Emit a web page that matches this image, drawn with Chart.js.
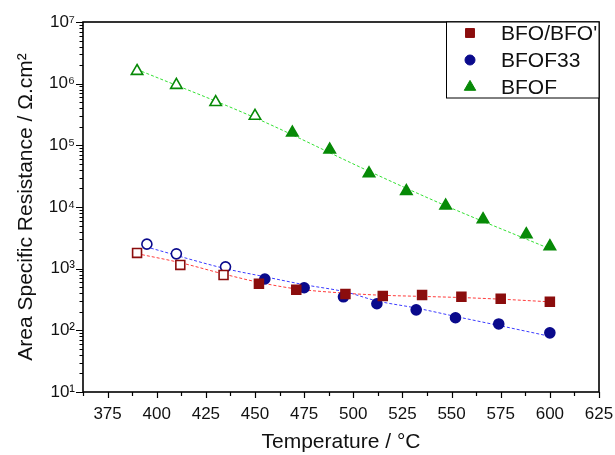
<!DOCTYPE html>
<html>
<head>
<meta charset="utf-8">
<script src="https://cdn.jsdelivr.net/npm/chart.js@4.4.1/dist/chart.umd.min.js"></script>
<style>
  html, body { margin: 0; padding: 0; background: #fff; }
  #wrap { width: 615px; height: 455px; }
</style>
</head>
<body>
<div id="wrap"><canvas id="myChart"></canvas></div>
<script>
const ctx = document.getElementById("myChart");

// BFO/BFO' (first 3 points open squares)
const bfoTemp = [390, 412, 434, 452, 471, 496, 515, 535, 555, 575, 600];
const bfoAsr = [1800, 1150, 790, 570, 455, 390, 360, 375, 350, 325, 290];
const bfoOpenCount = 3;

// BFOF33 (first 3 points open circles)
const bfof33Temp = [395, 410, 435, 455, 475, 495, 512, 532, 552, 574, 600];
const bfof33Asr = [2500, 1740, 1070, 680, 490, 350, 270, 215, 160, 127, 91];
const bfof33OpenCount = 3;

// BFOF (first 4 points open triangles)
const bfofTemp = [390, 410, 430, 450, 469, 488, 508, 527, 547, 566, 588, 600];
const bfofAsr = [1600000, 950000, 500000, 300000, 160000, 85000, 35000, 18000, 10500, 6300, 3600, 2300];
const bfofOpenCount = 4;

// dashed fit curves
const bfoFitTemp = [390, 412, 434, 452, 471, 496, 515, 535, 555, 575, 600];
const bfoFitAsr = [1750, 1250, 820, 600, 470, 400, 370, 355, 340, 320, 290];
const bfof33FitTemp = [397, 435, 455, 475, 496, 512, 532, 552, 574, 600];
const bfof33FitAsr = [2150, 1000, 740, 550, 420, 300, 230, 168, 120, 80];
const bfofFitTemp = [390, 450, 508, 547, 600];
const bfofFitAsr = [1700000, 280000, 38000, 10500, 2100];

const xTicks = [375, 400, 425, 450, 475, 500, 525, 550, 575, 600, 625];
const yTicks = [1e1, 1e2, 1e3, 1e4, 1e5, 1e6, 1e7];
const yTickLabels = ["10¹", "10²", "10³", "10⁴", "10⁵", "10⁶", "10⁷"];

const red = "#8b0d0d";
const blue = "#0a0a8c";
const green = "#078a07";
const font = "'Liberation Sans', Arial, sans-serif";

const pts = (xs, ys) => xs.map((x, i) => ({ x: x, y: ys[i] }));

const markerSet = (label, xs, ys, color, style, radius, openCount) => ({
  label: label,
  data: pts(xs, ys),
  pointStyle: style,
  pointRadius: radius,
  pointBorderWidth: 1.6,
  pointBorderColor: color,
  pointBackgroundColor: (c) => (c.dataIndex < openCount ? "#ffffff" : color),
  showLine: false,
});

const fitSet = (xs, ys, color) => ({
  label: "fit",
  data: pts(xs, ys),
  showLine: true,
  borderColor: color,
  borderWidth: 1,
  borderDash: [3, 2],
  pointRadius: 0,
  cubicInterpolationMode: "monotone",
  fit: true,
});

const frameAndTicks = {
  id: "frameAndTicks",
  afterDraw(chart) {
    const { ctx, chartArea: a, scales: { x, y } } = chart;
    ctx.save();
    ctx.strokeStyle = "#000";
    ctx.lineWidth = 1.2;
    ctx.beginPath();
    for (let v = x.min; v <= x.max + 0.01; v += 12.5) {
      const px = Math.round(x.getPixelForValue(v)) + 0.5;
      const len = v % 25 === 0 ? 6 : 4;
      ctx.moveTo(px, a.bottom);
      ctx.lineTo(px, a.bottom + len);
    }
    for (let e = 1; e <= 7; e++) {
      for (let m = 1; m <= 9; m++) {
        const v = m * Math.pow(10, e);
        if (v > y.max * 1.001) break;
        const py = Math.round(y.getPixelForValue(v)) + 0.5;
        const len = m === 1 ? 7 : 3.5;
        ctx.moveTo(a.left, py);
        ctx.lineTo(a.left - len, py);
      }
    }
    ctx.stroke();
    ctx.lineWidth = 1.6;
    ctx.strokeRect(a.left, a.top, a.right - a.left, a.bottom - a.top);
    ctx.restore();
  },
};

const boxLegend = {
  id: "boxLegend",
  afterDraw(chart) {
    const { ctx, chartArea: a } = chart;
    const sets = chart.data.datasets.filter((d) => !d.fit);
    const boxLeft = 446, boxBottom = 98;
    ctx.save();
    ctx.fillStyle = "#fff";
    ctx.fillRect(boxLeft, a.top, a.right - boxLeft, boxBottom - a.top);
    ctx.strokeStyle = "#000";
    ctx.lineWidth = 1;
    ctx.strokeRect(boxLeft + 0.5, a.top, a.right - boxLeft - 0.5, boxBottom - a.top);
    ctx.font = "21px " + font;
    ctx.textBaseline = "middle";
    sets.forEach((d, i) => {
      const cy = a.top + 11 + i * 27;
      ctx.fillStyle = d.pointBorderColor;
      ctx.strokeStyle = d.pointBorderColor;
      ctx.lineWidth = 1;
      Chart.helpers.drawPoint(ctx, { pointStyle: d.pointStyle, radius: d.pointRadius, borderWidth: 1 }, 470, cy);
      ctx.fillStyle = "#111";
      ctx.fillText(d.label, 501, cy + 1);
    });
    ctx.restore();
  },
};

new Chart(ctx, {
  type: "scatter",
  data: {
    datasets: [
      markerSet("BFO/BFO'", bfoTemp, bfoAsr, red, "rect", 6.3, bfoOpenCount),
      markerSet("BFOF33", bfof33Temp, bfof33Asr, blue, "circle", 5, bfof33OpenCount),
      markerSet("BFOF", bfofTemp, bfofAsr, green, "triangle", 6.6, bfofOpenCount),
      fitSet(bfoFitTemp, bfoFitAsr, "#ff3b3b"),
      fitSet(bfof33FitTemp, bfof33FitAsr, "#3b3bff"),
      fitSet(bfofFitTemp, bfofFitAsr, "#33e033"),
    ],
  },
  options: {
    responsive: true,
    maintainAspectRatio: false,
    animation: false,
    layout: { padding: { top: 22, right: 16, left: 0, bottom: 0 } },
    plugins: { legend: { display: false }, tooltip: { enabled: false } },
    scales: {
      x: {
        type: "linear",
        min: 362.5,
        max: 625,
        afterBuildTicks: (s) => { s.ticks = xTicks.map((v) => ({ value: v })); },
        afterFit: (s) => { s.height = 63; s.paddingLeft = 0; s.paddingRight = 0; },
        grid: { display: false, drawTicks: false },
        border: { display: false },
        ticks: { padding: 12, color: "#111", font: { family: font, size: 17 }, maxRotation: 0 },
        title: { display: true, text: "Temperature / °C", color: "#111", font: { family: font, size: 21 }, padding: { top: 0, bottom: 0 } },
      },
      y: {
        type: "logarithmic",
        min: 10,
        max: 1e7,
        afterBuildTicks: (s) => { s.ticks = yTicks.map((v) => ({ value: v })); },
        afterFit: (s) => { s.width = 83; s.paddingTop = 0; s.paddingBottom = 0; },
        grid: { display: false, drawTicks: false },
        border: { display: false },
        ticks: {
          padding: 8,
          color: "#111",
          font: { family: font, size: 17 },
          callback: (v) => yTickLabels[yTicks.indexOf(v)] ?? "",
        },
        title: { display: true, text: "Area Specific Resistance / Ω.cm²", color: "#111", font: { family: font, size: 21 }, padding: { top: 14, bottom: 0 } },
      },
    },
  },
  plugins: [frameAndTicks, boxLegend],
});
</script>
</body>
</html>
